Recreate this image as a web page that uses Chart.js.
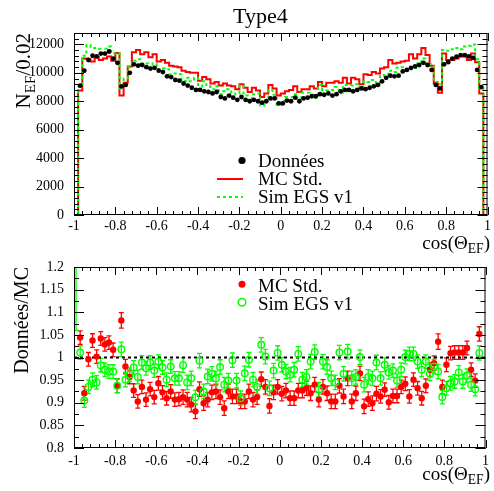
<!DOCTYPE html>
<html>
<head>
<meta charset="utf-8">
<title>Type4</title>
<script src="https://cdn.jsdelivr.net/npm/chart.js@4.4.1/dist/chart.umd.min.js"></script>
<style>
  html, body { margin: 0; padding: 0; background: #fff; }
  #page { position: relative; width: 494px; height: 491px; overflow: hidden; font-family: "Liberation Serif", "Times New Roman", serif; color: #000; }
  #page canvas { position: absolute; left: 0; }
  .txt { position: absolute; white-space: nowrap; line-height: 1; }
  .rot { transform-origin: 0 0; transform: rotate(-90deg); text-align: right; }
  sub { font-size: 72%; vertical-align: -0.3em; line-height: 0; }
</style>
</head>
<body>
<div id="page">
  <canvas id="histo" width="494" height="245" style="top:0"></canvas>
  <canvas id="ratio" width="494" height="246" style="top:245px"></canvas>
  <div class="txt" style="left:233px; top:5px; font-size:22px;">Type4</div>
  <div class="txt rot" style="left:13px; top:183px; width:150px; font-size:21px;">N<sub>EF</sub>/0.02</div>
  <div class="txt" style="right:4px; top:233px; font-size:19px;">cos(Θ<sub>EF</sub>)</div>
  <div class="txt rot" style="left:11px; top:417px; width:150px; font-size:20px;">Données/MC</div>
  <div class="txt" style="right:4px; top:464px; font-size:19px;">cos(Θ<sub>EF</sub>)</div>
</div>
<script>
// 100 bins of width 0.02 from -1 to 1
const binWidth = 0.02;
const xTicks = [-1, -0.8, -0.6, -0.4, -0.2, 0, 0.2, 0.4, 0.6, 0.8, 1];
const histoTicks = [0, 2000, 4000, 6000, 8000, 10000, 12000];
const ratioTicks = [0.8, 0.85, 0.9, 0.95, 1, 1.05, 1.1, 1.15, 1.2];

// top panel: entries per bin
const donnees = [
  0, 9100, 10150, 10900, 11200, 11150, 11350, 11350, 11500, 11000,
  10700, 9050, 9150, 10000, 10600, 10500, 10550, 10400, 10300, 10350,
  10150, 10050, 9750, 9700, 9500, 9450, 9250, 9100, 8950, 8800,
  8800, 8700, 8650, 8550, 8650, 8300, 8200, 8400, 8250, 8100,
  8300, 8100, 8000, 8100, 8000, 7900, 8000, 8200, 8200, 7850,
  7850, 8050, 8000, 8250, 8000, 8200, 8250, 8350, 8350, 8500,
  8450, 8550, 8400, 8500, 8700, 8800, 8800, 8700, 8800, 8900,
  8850, 8950, 9050, 9150, 9400, 9650, 9800, 9750, 9800, 10100,
  10200, 10350, 10450, 10550, 10700, 10550, 10200, 9150, 8900, 10600,
  10750, 11000, 11130, 11250, 11250, 11150, 11050, 10200, 9000, 0
];
const mcStd = [
  0, 8750, 11000, 10950, 10800, 11100, 10900, 11000, 11150, 10850,
  11400, 8400, 9300, 10450, 11450, 11600, 11300, 11450, 11100, 11300,
  10800, 10900, 10700, 10500, 10450, 10400, 10150, 10050, 10000, 10000,
  9450, 9700, 9550, 9250, 9350, 9100, 9250, 9100, 9050, 8850,
  9200, 8950, 8650, 8950, 8750, 8300, 8550, 9150, 8900, 8400,
  8550, 8700, 8800, 9050, 8650, 8850, 8850, 9050, 8900, 9350,
  9050, 9300, 9300, 9400, 9300, 9650, 9250, 9650, 9550, 9200,
  9900, 9850, 10050, 9950, 10300, 10400, 10900, 10650, 10700, 10800,
  10850, 11300, 11000, 11300, 11750, 11250, 10500, 9250, 8600, 11350,
  10900, 10900, 11000, 11150, 11150, 10900, 11350, 10750, 8550, 0
];
const simEgs = [
  0, 9000, 11200, 11950, 11750, 11750, 11700, 11700, 11850, 11350,
  11400, 8900, 9600, 10400, 10850, 10950, 10650, 10650, 10400, 10650,
  10250, 10300, 10250, 9900, 9950, 9900, 9400, 9650, 9400, 9650,
  8850, 9400, 9050, 8850, 9050, 8500, 8700, 8850, 8300, 8550,
  9100, 8400, 8050, 8500, 8550, 7700, 8000, 8800, 8450, 7750,
  8000, 8300, 8300, 8500, 7950, 8600, 8600, 8450, 8250, 9150,
  8550, 8750, 8800, 9000, 8600, 9150, 8700, 9100, 9200, 8900,
  9400, 9350, 9500, 9250, 9850, 9800, 10150, 10050, 10350, 10400,
  10200, 10250, 10350, 10650, 11000, 10650, 10600, 9350, 9200, 11600,
  11550, 11650, 11750, 11650, 11850, 11900, 12000, 10950, 8900, 0
];

// bottom panel: Données / MC per bin
const ratioMc = [
  null, 1.044, 0.921, 0.996, 1.0375, 1.002, 1.042, 1.029, 1.033, 1.017,
  0.9375, 1.082, 0.980, 0.957, 0.927, 0.903, 0.935, 0.907, 0.930, 0.9125,
  0.943, 0.923, 0.910, 0.925, 0.907, 0.908, 0.9125, 0.907, 0.896, 0.881,
  0.930, 0.899, 0.907, 0.923, 0.925, 0.9125, 0.888, 0.925, 0.914, 0.914,
  0.903, 0.903, 0.925, 0.907, 0.9125, 0.952, 0.935, 0.893, 0.923, 0.935,
  0.920, 0.927, 0.910, 0.910, 0.927, 0.927, 0.932, 0.921, 0.940, 0.907,
  0.935, 0.921, 0.903, 0.903, 0.9375, 0.914, 0.954, 0.903, 0.921, 0.965,
  0.892, 0.908, 0.899, 0.920, 0.914, 0.929, 0.901, 0.915, 0.915, 0.935,
  0.942, 0.914, 0.951, 0.932, 0.910, 0.9375, 0.973, 0.9875, 1.035, 0.935,
  0.984, 1.0096, 1.011, 1.011, 1.011, 1.021, 0.973, 0.949, 1.052, null
];
const ratioEgs = [
  1.35, 1.011, 0.905, 0.935, 0.951, 0.945, 0.983, 0.973, 0.969, 0.969,
  0.9375, 1.018, 0.951, 0.962, 0.978, 0.957, 0.989, 0.976, 0.989, 0.971,
  0.991, 0.978, 0.951, 0.980, 0.954, 0.954, 0.983, 0.945, 0.954, 0.912,
  0.993, 0.925, 0.958, 0.964, 0.954, 0.979, 0.940, 0.949, 0.994, 0.949,
  0.910, 0.965, 0.995, 0.951, 0.935, 1.028, 1.002, 0.932, 0.971, 1.010,
  0.984, 0.969, 0.962, 0.973, 1.008, 0.951, 0.957, 0.991, 1.012, 0.929,
  0.991, 0.979, 0.954, 0.945, 1.011, 0.964, 1.013, 0.954, 0.957, 1.001,
  0.940, 0.957, 0.954, 0.989, 0.954, 0.984, 0.967, 0.971, 0.949, 0.973,
  1.001, 1.008, 1.008, 0.991, 0.973, 0.991, 0.964, 0.980, 0.969, 0.9125,
  0.932, 0.943, 0.947, 0.967, 0.947, 0.960, 0.940, 0.930, 1.010, null
];
const errMc = [
  null, 0.015, 0.015, 0.015, 0.015, 0.015, 0.015, 0.015, 0.015, 0.015,
  0.015, 0.017, 0.016, 0.015, 0.015, 0.015, 0.015, 0.015, 0.015, 0.015,
  0.015, 0.015, 0.015, 0.015, 0.015, 0.015, 0.016, 0.016, 0.016, 0.016,
  0.016, 0.016, 0.016, 0.016, 0.016, 0.016, 0.016, 0.016, 0.016, 0.016,
  0.016, 0.016, 0.016, 0.016, 0.016, 0.016, 0.016, 0.016, 0.016, 0.016,
  0.016, 0.016, 0.016, 0.016, 0.016, 0.016, 0.016, 0.016, 0.016, 0.016,
  0.016, 0.016, 0.016, 0.016, 0.016, 0.016, 0.016, 0.016, 0.016, 0.016,
  0.016, 0.016, 0.016, 0.016, 0.015, 0.015, 0.015, 0.015, 0.015, 0.015,
  0.015, 0.015, 0.015, 0.015, 0.015, 0.015, 0.015, 0.016, 0.017, 0.015,
  0.015, 0.015, 0.015, 0.015, 0.015, 0.015, 0.015, 0.015, 0.016, null
];
const errEgs = [
  0.29, 0.015, 0.015, 0.015, 0.015, 0.015, 0.015, 0.015, 0.015, 0.015,
  0.015, 0.016, 0.016, 0.015, 0.015, 0.015, 0.015, 0.015, 0.015, 0.015,
  0.015, 0.015, 0.015, 0.015, 0.015, 0.015, 0.016, 0.016, 0.016, 0.016,
  0.016, 0.016, 0.016, 0.016, 0.016, 0.016, 0.016, 0.016, 0.016, 0.016,
  0.016, 0.016, 0.016, 0.016, 0.016, 0.016, 0.016, 0.016, 0.016, 0.016,
  0.016, 0.016, 0.016, 0.016, 0.016, 0.016, 0.016, 0.016, 0.016, 0.016,
  0.016, 0.016, 0.016, 0.016, 0.016, 0.016, 0.016, 0.016, 0.016, 0.016,
  0.016, 0.016, 0.016, 0.016, 0.015, 0.015, 0.015, 0.015, 0.015, 0.015,
  0.015, 0.015, 0.015, 0.015, 0.015, 0.015, 0.015, 0.016, 0.016, 0.015,
  0.015, 0.015, 0.015, 0.015, 0.015, 0.015, 0.015, 0.015, 0.016, null
];
const unity = [1, 1];

const RED = '#ff0000';
const GREEN = '#00ff00';
const FONT = '"Liberation Serif", "Times New Roman", serif';

const binLow = donnees.map((_, i) => -1 + i * binWidth);
const binCenter = binLow.map(v => v + binWidth / 2);

function stepPoints(values) {
  const pts = values.map((v, i) => ({ x: binLow[i], y: v }));
  pts.push({ x: 1, y: values[values.length - 1] });
  return pts;
}
function centerPoints(values) {
  return values.map((v, i) => ({ x: binCenter[i], y: v }));
}
const fmt = v => String(+(+v).toFixed(2));

// frame with inward ticks on all four sides (ROOT look)
const frameTicks = {
  id: 'frameTicks',
  afterDatasetsDraw(chart, args, o) {
    const { ctx, chartArea: a } = chart;
    const xs = chart.scales.x, ys = chart.scales.y;
    ctx.save();
    ctx.strokeStyle = '#000';
    ctx.lineWidth = 1;
    ctx.beginPath();
    const xMark = (v, len) => {
      const px = Math.round(xs.getPixelForValue(v)) + 0.5;
      ctx.moveTo(px, a.bottom); ctx.lineTo(px, a.bottom - len);
      ctx.moveTo(px, a.top); ctx.lineTo(px, a.top + len);
    };
    const yMark = (v, len) => {
      const py = Math.round(ys.getPixelForValue(v)) + 0.5;
      ctx.moveTo(a.left, py); ctx.lineTo(a.left + len, py);
      ctx.moveTo(a.right, py); ctx.lineTo(a.right - len, py);
    };
    for (let v = xs.min; v <= xs.max + 1e-9; v += o.xMinor) xMark(v, 4);
    xTicks.forEach(v => xMark(v, 8));
    for (let v = ys.min; v <= ys.max + 1e-9; v += o.yMinor) yMark(v, 5);
    o.yMajor.forEach(v => yMark(v, 10));
    ctx.stroke();
    ctx.strokeRect(a.left + 0.5, a.top + 0.5, a.width - 1, a.height - 1);
    ctx.restore();
  }
};

const errorBars = {
  id: 'errorBars',
  beforeDatasetsDraw(chart, args, o) {
    if (!o.series) return;
    const { ctx, chartArea: a } = chart;
    const xs = chart.scales.x, ys = chart.scales.y;
    ctx.save();
    ctx.beginPath();
    ctx.rect(a.left, a.top, a.width, a.height);
    ctx.clip();
    o.series.forEach(s => {
      ctx.strokeStyle = s.color;
      ctx.lineWidth = 1.3;
      ctx.beginPath();
      s.values.forEach((v, i) => {
        if (v === null) return;
        const px = xs.getPixelForValue(binCenter[i]);
        const lo = ys.getPixelForValue(v - s.errors[i]);
        const hi = ys.getPixelForValue(v + s.errors[i]);
        ctx.moveTo(px, lo); ctx.lineTo(px, hi);
        ctx.moveTo(px - 2.5, lo); ctx.lineTo(px + 2.5, lo);
        ctx.moveTo(px - 2.5, hi); ctx.lineTo(px + 2.5, hi);
      });
      ctx.stroke();
    });
    ctx.restore();
  }
};

const legendBox = {
  id: 'legendBox',
  afterDraw(chart, args, o) {
    const { ctx } = chart;
    ctx.save();
    o.items.forEach(it => {
      ctx.save();
      ctx.lineWidth = 2;
      if (it.symbol === 'dot' || it.symbol === 'open') {
        ctx.beginPath();
        ctx.arc(o.symbolX, it.sy, it.r, 0, Math.PI * 2);
        if (it.symbol === 'dot') { ctx.fillStyle = it.color; ctx.fill(); }
        else { ctx.lineWidth = 1.5; ctx.strokeStyle = it.color; ctx.stroke(); }
      } else {
        ctx.strokeStyle = it.color;
        if (it.symbol === 'dash') ctx.setLineDash([3, 3]);
        ctx.beginPath();
        ctx.moveTo(o.symbolX - 25, it.sy);
        ctx.lineTo(o.symbolX + 1, it.sy);
        ctx.stroke();
      }
      ctx.restore();
      ctx.fillStyle = '#000';
      ctx.font = '19px ' + FONT;
      ctx.textBaseline = 'alphabetic';
      ctx.fillText(it.text, o.textX, it.ty);
    });
    ctx.restore();
  }
};

function xAxis(height, pad) {
  return {
    type: 'linear', min: -1, max: 1,
    afterBuildTicks: s => { s.ticks = xTicks.map(v => ({ value: v })); },
    afterFit: s => { s.height = height; },
    grid: { display: false, drawTicks: false },
    border: { display: false },
    ticks: { padding: pad, color: '#000', font: { family: FONT, size: 14 }, maxRotation: 0, autoSkip: false, callback: fmt }
  };
}
function yAxis(min, max, ticks) {
  return {
    type: 'linear', min: min, max: max,
    afterBuildTicks: s => { s.ticks = ticks.map(v => ({ value: v })); },
    afterFit: s => { s.width = 74; },
    grid: { display: false, drawTicks: false },
    border: { display: false },
    ticks: { padding: 10, color: '#000', font: { family: FONT, size: 14 }, callback: fmt }
  };
}

Chart.defaults.font.family = FONT;

new Chart(document.getElementById('histo'), {
  type: 'line',
  data: {
    datasets: [
      { label: 'Données', data: centerPoints(donnees.map(v => v || null)), showLine: false,
        pointRadius: 2.4, pointBackgroundColor: '#000', pointBorderWidth: 0, order: 0 },
      { label: 'Sim EGS v1', data: stepPoints(simEgs), stepped: true, borderColor: GREEN,
        borderWidth: 2, borderDash: [3, 3], pointRadius: 0, fill: false, order: 1 },
      { label: 'MC Std.', data: stepPoints(mcStd), stepped: true, borderColor: RED,
        borderWidth: 2, pointRadius: 0, fill: false, order: 2 }
    ]
  },
  options: {
    responsive: false, animation: false, events: [],
    layout: { padding: { left: 0, right: 2, top: 33, bottom: 0 } },
    scales: { x: xAxis(30, 3), y: yAxis(0, 12800, histoTicks) },
    plugins: {
      legend: { display: false }, tooltip: { enabled: false },
      frameTicks: { xMinor: 0.04, yMinor: 400, yMajor: histoTicks },
      legendBox: { symbolX: 242, textX: 258, items: [
        { symbol: 'dot', color: '#000', r: 3.6, sy: 160.5, text: 'Données', ty: 166.7 },
        { symbol: 'line', color: RED, sy: 179, text: 'MC Std.', ty: 185 },
        { symbol: 'dash', color: GREEN, sy: 197, text: 'Sim EGS v1', ty: 203.3 }
      ] }
    }
  },
  plugins: [frameTicks, legendBox]
});

new Chart(document.getElementById('ratio'), {
  type: 'line',
  data: {
    datasets: [
      { label: 'Sim EGS v1', data: centerPoints(ratioEgs), showLine: false, pointRadius: 3.3,
        pointBackgroundColor: 'rgba(0,0,0,0)', pointBorderColor: GREEN, pointBorderWidth: 1.4, clip: 0, order: 1 },
      { label: 'MC Std.', data: centerPoints(ratioMc), showLine: false, pointRadius: 3.2,
        pointBackgroundColor: RED, pointBorderWidth: 0, clip: 0, order: 2 },
      { label: 'ref', data: [{ x: -1, y: unity[0] }, { x: 1, y: unity[1] }], borderColor: '#000',
        borderWidth: 2, borderDash: [3, 3], pointRadius: 0, order: 3 }
    ]
  },
  options: {
    responsive: false, animation: false, events: [],
    layout: { padding: { left: 0, right: 2, top: 22, bottom: 0 } },
    scales: { x: xAxis(43, 5), y: yAxis(0.8, 1.2, ratioTicks) },
    plugins: {
      legend: { display: false }, tooltip: { enabled: false },
      frameTicks: { xMinor: 0.04, yMinor: 0.025, yMajor: ratioTicks },
      errorBars: { series: [
        { values: ratioMc, errors: errMc, color: RED },
        { values: ratioEgs, errors: errEgs, color: GREEN }
      ] },
      legendBox: { symbolX: 242, textX: 258, items: [
        { symbol: 'dot', color: RED, r: 3.5, sy: 39.3, text: 'MC Std.', ty: 46.7 },
        { symbol: 'open', color: GREEN, r: 3.8, sy: 57.3, text: 'Sim EGS v1', ty: 65 }
      ] }
    }
  },
  plugins: [frameTicks, errorBars, legendBox]
});
</script>
</body>
</html>
